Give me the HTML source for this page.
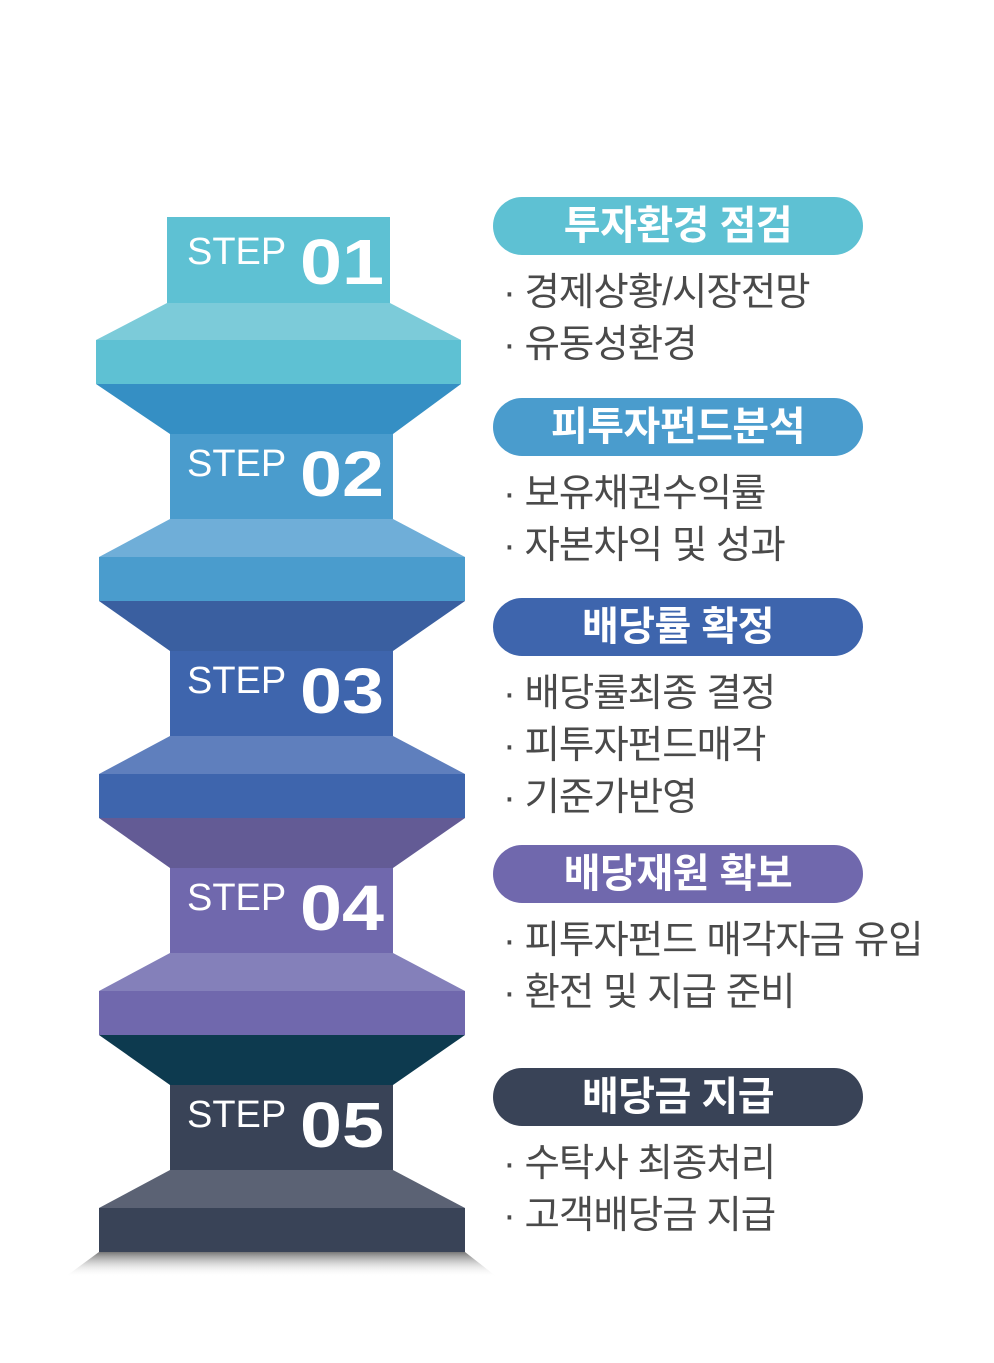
<!DOCTYPE html>
<html><head><meta charset="utf-8"><style>
body{margin:0;background:#fff;}
.wrap{position:relative;width:994px;height:1363px;overflow:hidden;}
svg{position:absolute;left:0;top:0;}
.pill{position:absolute;left:493px;width:370px;height:58px;border-radius:29px;color:#fff;font:bold 40px "Liberation Sans","Noto Sans CJK KR",sans-serif;text-align:center;line-height:58px;letter-spacing:-0.5px;}
.b{position:absolute;left:503px;font:38.5px "Liberation Sans","Noto Sans CJK KR",sans-serif;color:#4a4a4a;white-space:nowrap;line-height:42px;letter-spacing:-1px;}
.st{position:absolute;color:#fff;font-family:"Liberation Sans",sans-serif;}
.n{transform-origin:0 0;transform:scaleX(1.18);font-size:64px;font-weight:bold;}
</style></head><body><div class="wrap">
<svg width="994" height="1363">
<defs><linearGradient id="sh" x1="0" y1="0" x2="0" y2="1"><stop offset="0" stop-color="#777"/><stop offset="1" stop-color="#fff" stop-opacity="0"/></linearGradient></defs>
<rect x="167" y="217" width="223" height="86" fill="#5ec1d3"/>
<polygon points="167,303 390,303 461,340 96,340" fill="#7ccbd9"/>
<rect x="96" y="340" width="365" height="44" fill="#5ec1d3"/>
<polygon points="96,384 461,384 393,434 170,434" fill="#358fc4"/>
<rect x="170" y="434" width="223" height="85" fill="#4a9ccd"/>
<polygon points="170,519 393,519 465,557 99,557" fill="#6faed8"/>
<rect x="99" y="557" width="366" height="44" fill="#4a9ccd"/>
<polygon points="99,601 465,601 393,651 170,651" fill="#3a5fa0"/>
<rect x="170" y="651" width="223" height="85" fill="#3e65ad"/>
<polygon points="170,736 393,736 465,774 99,774" fill="#5f7fbd"/>
<rect x="99" y="774" width="366" height="44" fill="#3e65ad"/>
<polygon points="99,818 465,818 393,868 170,868" fill="#635b95"/>
<rect x="170" y="868" width="223" height="85" fill="#7068ad"/>
<polygon points="170,953 393,953 465,991 99,991" fill="#8480ba"/>
<rect x="99" y="991" width="366" height="44" fill="#7068ad"/>
<polygon points="99,1035 465,1035 393,1085 170,1085" fill="#0d3a4f"/>
<rect x="170" y="1085" width="223" height="85" fill="#394357"/>
<polygon points="170,1170 393,1170 465,1208 99,1208" fill="#5b6274"/>
<rect x="99" y="1208" width="366" height="44" fill="#394357"/>
<polygon points="99,1252 465,1252 497,1277 65,1277" fill="url(#sh)"/>
</svg>
<div class="st" style="left:187px;top:231px;font-size:38px">STEP</div><div class="st n" style="left:300px;top:225px">01</div>
<div class="st" style="left:187px;top:443px;font-size:38px">STEP</div><div class="st n" style="left:300px;top:437px">02</div>
<div class="st" style="left:187px;top:660px;font-size:38px">STEP</div><div class="st n" style="left:300px;top:654px">03</div>
<div class="st" style="left:187px;top:877px;font-size:38px">STEP</div><div class="st n" style="left:300px;top:871px">04</div>
<div class="st" style="left:187px;top:1094px;font-size:38px">STEP</div><div class="st n" style="left:300px;top:1088px">05</div>

<div class="pill" style="top:197px;background:#5ec1d3">투자환경 점검</div>
<div class="b" style="top:272px">· 경제상황/시장전망</div>
<div class="b" style="top:324px">· 유동성환경</div>

<div class="pill" style="top:398px;background:#4a9ccd">피투자펀드분석</div>
<div class="b" style="top:473px">· 보유채권수익률</div>
<div class="b" style="top:525px">· 자본차익 및 성과</div>

<div class="pill" style="top:598px;background:#3e65ad">배당률 확정</div>
<div class="b" style="top:673px">· 배당률최종 결정</div>
<div class="b" style="top:725px">· 피투자펀드매각</div>
<div class="b" style="top:777px">· 기준가반영</div>

<div class="pill" style="top:845px;background:#7068ad">배당재원 확보</div>
<div class="b" style="top:920px">· 피투자펀드 매각자금 유입</div>
<div class="b" style="top:972px">· 환전 및 지급 준비</div>

<div class="pill" style="top:1068px;background:#394357">배당금 지급</div>
<div class="b" style="top:1143px">· 수탁사 최종처리</div>
<div class="b" style="top:1195px">· 고객배당금 지급</div>
</div></body></html>
